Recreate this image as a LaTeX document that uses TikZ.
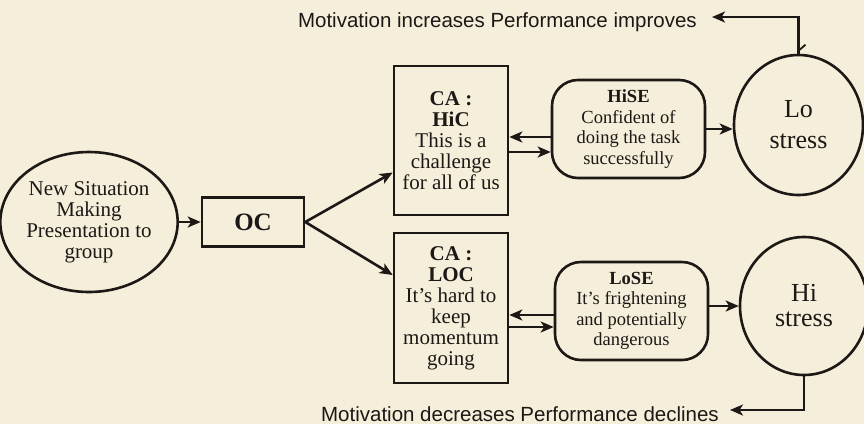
\documentclass[tikz,border=0pt]{standalone}
\usepackage{fontspec}
\setmainfont{Liberation Serif}
\newfontfamily\labelfont{Liberation Sans}
\usetikzlibrary{shapes.geometric,arrows.meta}

\definecolor{paper}{RGB}{245,238,218}
\definecolor{ink}{RGB}{28,24,22}

\begin{document}
\begin{tikzpicture}[x=1pt,y=-1pt,
  every node/.style={inner sep=0pt, text=ink, align=center},
  line/.style={draw=ink, line width=2.6pt},
  arr/.style={line, -{Stealth[length=13pt,width=11pt,inset=3.5pt]}},
  roundnode/.style={line, ellipse},
  boxnode/.style={line, rectangle},
  softbox/.style={line, rectangle, rounded corners=26pt},
  body/.style={font=\fontsize{21}{21}\selectfont},
  small/.style={font=\fontsize{18.5}{20.5}\selectfont},
  caption/.style={font=\labelfont\fontsize{20.5}{22}\selectfont}
]
% paper
\fill[paper] (0,0) rectangle (864,424);
\useasboundingbox (0,0) rectangle (864,424);

% situation and appraisal
\node[roundnode, body, minimum width=158pt, minimum height=140pt] (ns) at (89,222)
  {New Situation\\Making\\Presentation to\\group};
\node[boxnode, minimum width=102pt, minimum height=49pt,
      font=\fontsize{25}{25}\selectfont\bfseries] (oc) at (253,222) {OC};

\node[boxnode, body, minimum width=114pt, minimum height=149pt] (hic) at (451,140.5)
  {\textbf{CA :}\\\textbf{HiC}\\This is a\\challenge\\for all of us};
\node[boxnode, body, minimum width=114pt, minimum height=150pt] (loc) at (451,308)
  {\textbf{CA :}\\\textbf{LOC}\\It's hard to\\keep\\momentum\\going};

% self-efficacy
\node[softbox, small, minimum width=153pt, minimum height=98pt] (hise) at (628.5,129)
  {\textbf{HiSE}\\Confident of\\doing the task\\successfully};
\node[softbox, small, minimum width=153pt, minimum height=98pt] (lose) at (631.5,311)
  {\textbf{LoSE}\\It's frightening\\and potentially\\dangerous};

% stress outcomes
\node[roundnode, minimum width=129pt, minimum height=140pt,
      font=\fontsize{26}{31}\selectfont] (lo) at (798.5,125) {Lo\\stress};
\node[roundnode, minimum width=128pt, minimum height=138pt,
      font=\fontsize{26}{25}\selectfont] (hi) at (804,306) {Hi\\stress};

% flow
\draw[arr] (ns.east) -- (oc.west);
\draw[arr] (oc.east) -- ([yshift=-32pt]hic.west);
\draw[arr] (oc.east) -- ([yshift=33pt]loc.west);

\draw[arr] ([yshift=-8pt]hise.west) -- ([yshift=-8pt]hise.west -| hic.east);
\draw[arr] ([yshift=-23pt]hise.west -| hic.east) -- ([yshift=-23pt]hise.west);
\draw[arr] ([yshift=-4pt]lose.west) -- ([yshift=-4pt]lose.west -| loc.east);
\draw[arr] ([yshift=-16pt]lose.west -| loc.east) -- ([yshift=-16pt]lose.west);

\draw[arr] (hise.east) -- (hise.east -| lo.west);
\draw[arr] ([yshift=5pt]lose.east) -- (hi.west);

% feedback loops
\coordinate (uptip) at (712,17);
\coordinate (downtip) at (730,410);
\draw[arr] (lo.north) |- (uptip);
\draw[line, line width=1.8pt] ([yshift=3pt]lo.north) -- ++(7,-6);
\draw[arr] (hi.south) |- (downtip);

\node[caption, anchor=base east] (up) at (697,27)
  {Motivation increases Performance improves};
\node[caption, anchor=base east] (down) at (719,421)
  {Motivation decreases Performance declines};
\end{tikzpicture}
\end{document}
